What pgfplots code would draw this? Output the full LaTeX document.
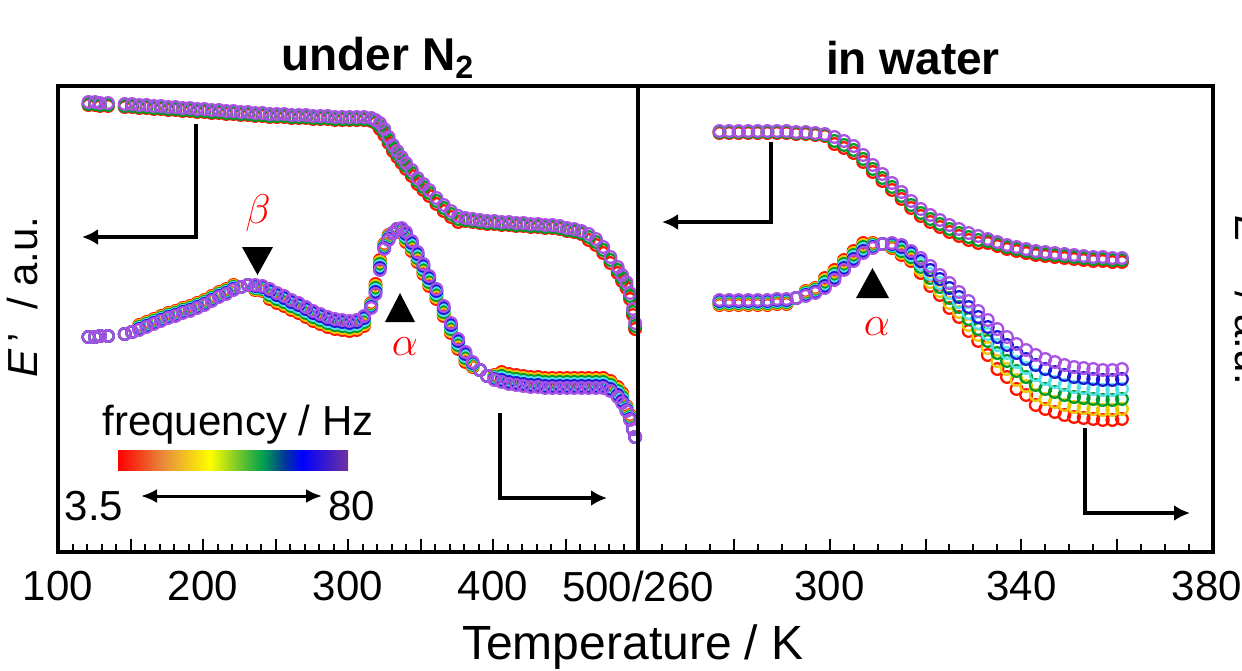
\documentclass[border=0pt]{standalone}
\usepackage{pgfplots}
\pgfplotsset{compat=1.18}
\usepackage{pgfplotstable}
\usepackage{fontspec}
\setmainfont{Liberation Sans}
\usetikzlibrary{arrows.meta}

\definecolor{cr}{RGB}{255,20,0}
\definecolor{cy}{RGB}{235,200,0}
\definecolor{cg}{RGB}{0,155,40}
\definecolor{cc}{RGB}{80,225,235}
\definecolor{cb}{RGB}{25,25,215}
\definecolor{cp}{RGB}{168,82,228}
\definecolor{cbo}{RGB}{232,140,60}
\definecolor{cbyg}{RGB}{120,200,40}
\definecolor{cbg}{RGB}{0,160,80}
\definecolor{cbt}{RGB}{0,60,150}
\definecolor{cbp}{RGB}{112,50,160}
\pgfdeclarehorizontalshading{freqbar}{100bp}{color(0bp)=(red); color(25bp)=(red); color(35bp)=(cbo); color(45bp)=(yellow); color(51bp)=(cbyg); color(56.5bp)=(cbg); color(61bp)=(cbt); color(65bp)=(blue); color(75bp)=(cbp); color(100bp)=(cbp)}

% left panel: under N2 (S = E', L = E'')
\pgfplotstableread{
T Sr Sg Sp Lr Ly Lg Lc Lb Lp
121 446 447 449 214 214 214 214 214 214
125.5 446 447 449 214 214 214 214 214 214
129 445 446 448 215 215 215 215 215 215
134.5 445 446 448 215 215 215 215 215 215
146 444 445 447 217 217 217 217 217 217
151 444 445 447 219 219 219 219 219 219
156 443 444 446 226 225 224 223 222 221
161 443 444 446 229 228 227 226 225 224
166 442 443 445 232 231 230 229 228 227
171 442 443 445 235 234 233 232 231 230
176 441 442 444 238 237 236 235 234 233
181 441 442 444 240 239 238 237 236 235
186 440 441 443 243 242 241 240 239 238
191 440 441 443 245 244 243 242 241 240
196 439 440 442 248 247 246 245 244 243
201 439 440 442 251 250 249 248 247 246
206 438 439 441 255 254 253 252 251 250
211 438 439 441 259 258 257 256 255 254
216 437 438 440 262 261 260 259 258 257
221 437 438 440 266 265 264 263 262 261
226 436 437 439 264 264 264 264 264 264
231 436 437 439 266 266 266 266 266 266
236 435 436 438 261 262 263 264 265 266
241 435 436 438 260 261 262 263 264 265
246 434 435 437 252 254 256 258 260 262
251 434 435 437 248 250 252 254 256 258
256 434 435 437 245 247 249 251 253 255
261 433 434 436 241 243 245 247 249 251
266 433 434 436 238 240 242 244 246 248
271 433 434 436 234 236 238 240 242 244
276 432 433 435 230 232 234 236 238 240
281 432 433 435 227 229 231 233 235 237
286 432 433 435 224 226 228 230 232 234
291 431 432 434 222 224 226 228 230 232
296 431 432 434 221 223 225 227 229 231
301 431 432 434 220 222 224 226 228 230
306 431 432 434 221 223 225 227 229 231
311 431 432 434 225 227 229 231 233 235
316 430 431 433 248 247 246 245 244 243
319 428 429 431 267 265 263 261 259 257
322 422 425 428 291 289 287 285 283 281
325 416 419 422 307 306 305 304 303 302
328 408 411 414 316 315 314 313 312 311
331 400 403 406 318 318 318 318 318 318
334 394 397 400 322 322 322 322 322 322
337 388 391 394 318 319 320 321 322 323
340 382 385 388 309 311 313 315 317 319
344 375 378 381 300 302 304 306 308 310
348 367 370 373 289 291 293 295 297 299
352 361 364 367 277 279 281 283 285 287
356 355 358 361 265 267 269 271 273 275
361 347 350 353 252 254 256 258 260 262
366 340 343 346 235 237 239 241 243 245
371 334 337 340 218 220 222 224 226 228
376 329 332 335 202 204 206 208 210 212
381 330 331 333 189 191 193 195 197 199
386 329 330 332 184 185 186 187 188 189
391 328 329 331 181 181 181 181 181 181
396 327 328 330 175 175 175 175 175 175
401 327 328 330 176 175 174 173 172 171
406 326 327 329 179 177 175 173 171 169
411 326 327 329 177 175 173 171 169 167
416 325 326 328 176 174 172 170 168 166
421 325 326 328 175 173 171 169 167 165
426 324 325 327 174 172 170 168 166 164
431 324 325 327 174 172 170 168 166 164
436 323 324 326 173 171 169 167 165 163
441 323 324 326 173 171 169 167 165 163
446 322 323 325 173 171 169 167 165 163
451 320 321 323 173 171 169 167 165 163
456 319 320 322 173 171 169 167 165 163
461 317 318 320 173 171 169 167 165 163
466 311 314 317 173 171 169 167 165 163
471 306 309 312 173 171 169 167 165 163
476 298 301 304 173 171 169 167 165 163
481 288 291 294 170 168 166 164 162 160
486 278 281 284 164 162 160 158 156 154
489 270 273 276 158 156 154 152 150 148
492 263 266 269 145 144 143 142 141 140
494.5 252 255 258 136 135 134 133 132 131
496.5 236 239 242 122 122 122 122 122 122
498 222 225 228 114 114 114 114 114 114
}\leftdata

% right panel: in water
\pgfplotstableread{
T Sr Sg Sp Lr Ly Lg Lc Lb Lp
277 418 419 420 246 247 248 249 250 251
279 418 419 420 246 247 248 249 250 251
281 418 419 420 246 247 248 249 250 251
283 418 419 420 246 247 248 249 250 251
285 418 419 420 246 247 248 249 250 251
287 418 419 420 246 247 248 249 250 251
289 418 419 420 247 248 249 250 251 252
291 418 419 420 247 248 249 250 251 252
293 417 418 419 253 253 253 253 253 253
295 417 418 419 260 259 258 257 256 255
297 416 417 418 263 262 261 260 259 258
299 415 416 417 273 271 269 267 265 263
301 407 410 414 281 279 277 275 273 271
303 403 406 410 291 289 287 285 283 281
305 398 401 405 300 298 296 294 292 290
307 389 392 396 308 306 304 302 300 298
309 379 382 386 308 307 306 305 304 303
311 370 373 377 307 307 307 307 307 307
313 361 364 368 303 304 305 306 307 308
315 352 355 359 296 298 300 302 304 306
317 343 346 350 290 292 294 296 298 300
319 335 338 342 278 281 284 287 290 293
321 329 332 336 265 269 273 277 281 285
323 324 327 331 256 260 264 268 272 276
325 319 322 326 243 248 253 258 263 268
327 315 318 322 234 239 244 249 254 259
329 311 314 318 220 226 232 238 244 250
331 308 311 315 210 216 222 228 234 240
333 308 310 312 196 203 210 217 224 231
335 305 307 309 182 190 198 206 214 222
337 302 304 306 174 182 190 198 206 214
339 300 302 304 162 171 180 189 198 207
341 298 300 302 156 165 174 183 192 201
343 296 298 300 146 156 166 176 186 196
345 295 297 299 142 152 162 172 182 192
347 294 296 298 139 149 159 169 179 189
349 293 295 297 136 146 156 166 176 186
351 292 294 296 134 144 154 164 174 184
353 291 293 295 133 143 153 163 173 183
355 290 292 294 132 142 152 162 172 182
357 290 292 294 131 141 151 161 171 181
359 289 291 293 131 141 151 161 171 181
361 289 291 293 132 142 152 162 172 182
}\rightdata

\pgfplotsset{
  panel/.style={scale only axis, height=233pt, ymin=-1, ymax=465, ytick=\empty,
    axis line style={line width=1.75pt}, tick align=inside, xtick pos=left,
    major tick length=6.5pt, minor tick length=4pt,
    tick style={black, line width=1pt},
    xticklabel style={font=\fontsize{21}{21}\selectfont, yshift=-6pt}},
  m/.style={only marks, mark=o, mark size=2.9pt, mark options={line width=1.15pt, solid}, color=#1}
}

\begin{document}
\begin{tikzpicture}[x=0.5pt,y=-0.5pt]
\useasboundingbox (0,0) rectangle (1242,670);

\begin{axis}[panel, at={(29pt,-43pt)}, anchor=north west, width=290pt,
  xmin=100, xmax=500, xtick={100,150,...,500}, xticklabels={100,,200,,300,,400,,},
  minor x tick num=4]
\addplot[m=cr] table[x=T,y=Sr]{\leftdata};
\addplot[m=cg] table[x=T,y=Sg]{\leftdata};
\addplot[m=cp] table[x=T,y=Sp]{\leftdata};
\addplot[m=cr] table[x=T,y=Lr]{\leftdata};
\addplot[m=cy] table[x=T,y=Ly]{\leftdata};
\addplot[m=cg] table[x=T,y=Lg]{\leftdata};
\addplot[m=cc] table[x=T,y=Lc]{\leftdata};
\addplot[m=cb] table[x=T,y=Lb]{\leftdata};
\addplot[m=cp] table[x=T,y=Lp]{\leftdata};
\end{axis}

\begin{axis}[panel, at={(319pt,-43pt)}, anchor=north west, width=287.5pt,
  xmin=260, xmax=380, xtick={260,280,...,380}, xticklabels={500/260,,300,,340,,\hspace*{-6pt}380},
  minor x tick num=3]
\addplot[m=cr] table[x=T,y=Sr]{\rightdata};
\addplot[m=cg] table[x=T,y=Sg]{\rightdata};
\addplot[m=cp] table[x=T,y=Sp]{\rightdata};
\addplot[m=cr] table[x=T,y=Lr]{\rightdata};
\addplot[m=cy] table[x=T,y=Ly]{\rightdata};
\addplot[m=cg] table[x=T,y=Lg]{\rightdata};
\addplot[m=cc] table[x=T,y=Lc]{\rightdata};
\addplot[m=cb] table[x=T,y=Lb]{\rightdata};
\addplot[m=cp] table[x=T,y=Lp]{\rightdata};
\end{axis}

% titles and labels
\node[font=\bfseries\fontsize{23}{23}\selectfont] at (378,58) {under N\textsubscript{2}};
\node[font=\bfseries\fontsize{23}{23}\selectfont] at (913,58) {in water};
\node[font=\fontsize{24}{24}\selectfont, anchor=base] at (633,659) {Temperature / K};
\node[rotate=90, anchor=base, font=\fontsize{21}{21}\selectfont] at (37,297) {{\itshape E}\,’\ \ / a.u.};
\node[rotate=-90, anchor=base west, font=\fontsize{21}{21}\selectfont] at (1235,208) {{\itshape E}\,’’\ \ / a.u.};

% frequency legend
\node[font=\fontsize{21}{21}\selectfont] at (238,425) {frequency / Hz};
\shade[shading=freqbar] (118,450) rectangle (348,470);
\node[font=\fontsize{21}{21}\selectfont] at (94,506) {3.5};
\node[font=\fontsize{21}{21}\selectfont] at (352,506) {80};
\draw[line width=1.5pt, {Latex[length=8pt,width=7pt]}-{Latex[length=8pt,width=7pt]}] (141,496) -- (322,496);

% direction arrows
\draw[line width=2pt, -{Latex[length=8pt,width=8pt]}] (196,124) -- (196,237) -- (82,237);
\draw[line width=2pt, -{Latex[length=8pt,width=8pt]}] (500,413) -- (500,498) -- (607,498);
\draw[line width=2pt, -{Latex[length=8pt,width=8pt]}] (771,142) -- (771,222) -- (662,222);
\draw[line width=2pt, -{Latex[length=8pt,width=8pt]}] (1085,428) -- (1085,513) -- (1190,513);

% relaxation markers
\fill (242,247) -- (273,247) -- (257.5,275) -- cycle;
\fill (385,322) -- (415,322) -- (400,293) -- cycle;
\fill (856,298) -- (889,298) -- (872.5,268) -- cycle;
\node[text=red, font=\fontsize{22}{22}\selectfont] at (258,213) {$\beta$};
\node[text=red, font=\fontsize{22}{22}\selectfont] at (405,347) {$\alpha$};
\node[text=red, font=\fontsize{22}{22}\selectfont] at (877,327) {$\alpha$};
\end{tikzpicture}
\end{document}
